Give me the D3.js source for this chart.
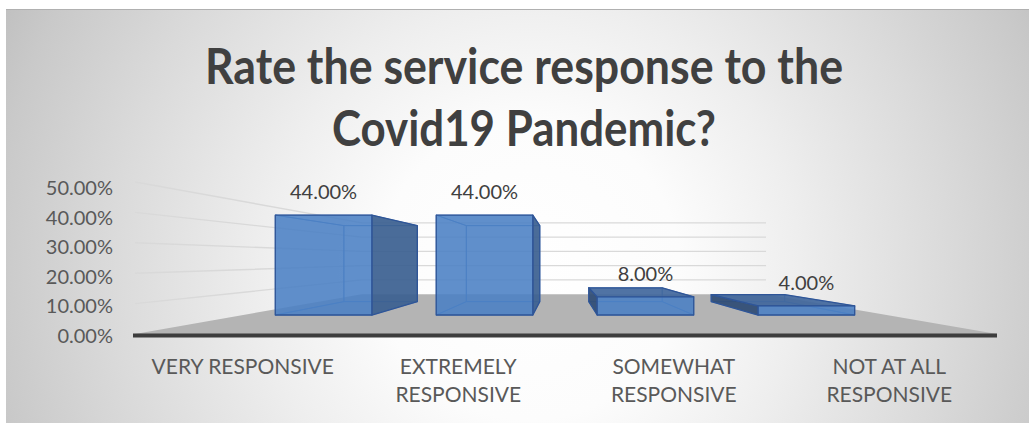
<!DOCTYPE html>
<html>
<head>
<meta charset="utf-8">
<script src="https://cdn.jsdelivr.net/npm/d3@7"></script>
<style>
  html, body { margin: 0; padding: 0; background: #ffffff; }
  svg { display: block; }
</style>
</head>
<body>
<svg id="chart" width="1029" height="423"></svg>
<script>
// ---- data ----
const categories = ["VERY RESPONSIVE", "EXTREMELY RESPONSIVE", "SOMEWHAT RESPONSIVE", "NOT AT ALL RESPONSIVE"];
const values = [0.44, 0.44, 0.08, 0.04];
const yTicks = [0, 0.1, 0.2, 0.3, 0.4, 0.5];
const titleLines = ["Rate the service response to the", "Covid19 Pandemic?"];

// ---- setup ----
const W = 1029, H = 423;
const svg = d3.select("#chart");
const fmt = d3.format(".2%");

// perspective: points live on a front plane (X, Y) and are pushed back by depth d
const VP = { x: 562, y: 259 };
const DEPTH = { front: 1, barFront: 1.339, barBack: 1.76, back: 2.132 };
const project = (X, Y, d) => [VP.x + (X - VP.x) / d, VP.y + (Y - VP.y) / d];
const poly = pts => "M" + pts.map(p => p[0].toFixed(2) + "," + p[1].toFixed(2)).join("L") + "Z";

const x = d3.scaleBand().domain(categories).range([135, 997]).paddingInner(0.4).paddingOuter(0.2);
const y = d3.scaleLinear().domain([0, 0.5]).range([334, 182]);
const yLabel = d3.scaleLinear().domain([0, 0.5]).range([336, 188]);

// ---- background ----
const defs = svg.append("defs");
const bg = defs.append("radialGradient").attr("id", "bgGrad")
  .attr("gradientUnits", "userSpaceOnUse")
  .attr("cx", 530).attr("cy", 270).attr("r", 600);
[[0, "#ffffff"], [0.25, "#fcfcfc"], [0.45, "#eeeeee"], [0.7, "#dadada"], [0.9, "#c9c9c9"], [1, "#bebebe"]]
  .forEach(([o, c]) => bg.append("stop").attr("offset", o).attr("stop-color", c));

svg.append("rect").attr("x", 6).attr("y", 9).attr("width", W - 6).attr("height", H - 9)
  .attr("fill", "url(#bgGrad)");
svg.append("line").attr("x1", 6).attr("x2", W).attr("y1", 9.5).attr("y2", 9.5)
  .attr("stroke", "#b0b0b0").attr("stroke-width", 1);

// ---- title ----
const titleWidths = [638, 384];
titleLines.forEach((t, i) => {
  svg.append("text").attr("x", 524).attr("y", 84 + i * 62)
    .attr("text-anchor", "middle")
    .attr("font-family", "Lato, 'Open Sans', sans-serif").attr("font-weight", 700)
    .attr("font-size", 49).attr("fill", "#404040")
    .attr("textLength", titleWidths[i]).attr("lengthAdjust", "spacingAndGlyphs")
    .text(t);
});

// ---- walls: gridlines on the side wall and back wall ----
const X0 = x.range()[0], X1 = x.range()[1];
const grid = svg.append("g").attr("stroke", "#d9d9d9").attr("stroke-width", 1.4).attr("fill", "none");
yTicks.filter(v => v > 0).forEach(v => {
  const a = project(X0, y(v), DEPTH.front);
  const b = project(X0, y(v), DEPTH.back);
  const c = project(X1, y(v), DEPTH.back);
  grid.append("path").attr("d", `M${a}L${b}L${c}`);
});

// ---- floor ----
svg.append("path")
  .attr("d", poly([project(X0, y(0), DEPTH.front), project(X1, y(0), DEPTH.front),
                   project(X1, y(0), DEPTH.back), project(X0, y(0), DEPTH.back)]))
  .attr("fill", "#b4b4b4");
svg.append("path")
  .attr("d", poly([project(X0 - 2, y(0) - 0.5, DEPTH.front), project(X1, y(0) - 0.5, DEPTH.front),
                   project(X1, y(0) + 3.5, DEPTH.front), project(X0 - 2, y(0) + 3.5, DEPTH.front)]))
  .attr("fill", "#3d3d3d");

// ---- bars ----
const barG = svg.append("g");
categories.forEach((c, i) => {
  const v = values[i];
  const bx0 = x(c), bx1 = bx0 + x.bandwidth();
  const yb = y(0), yt = y(v);
  const f = DEPTH.barFront, b = DEPTH.barBack;
  const faces = {
    front: [project(bx0, yt, f), project(bx1, yt, f), project(bx1, yb, f), project(bx0, yb, f)],
    back: [project(bx0, yt, b), project(bx1, yt, b), project(bx1, yb, b), project(bx0, yb, b)],
    left: [project(bx0, yt, f), project(bx0, yt, b), project(bx0, yb, b), project(bx0, yb, f)],
    right: [project(bx1, yt, f), project(bx1, yt, b), project(bx1, yb, b), project(bx1, yb, f)],
    top: [project(bx0, yt, f), project(bx1, yt, f), project(bx1, yt, b), project(bx0, yt, b)],
    bottom: [project(bx0, yb, f), project(bx1, yb, f), project(bx1, yb, b), project(bx0, yb, b)]
  };
  const visible = {
    front: true, back: false,
    left: bx0 > VP.x, right: bx1 < VP.x,
    top: yt > VP.y, bottom: yb < VP.y
  };
  const g = barG.append("g");
  // hidden edges show faintly through the translucent faces
  Object.keys(faces).filter(k => !visible[k]).forEach(k => {
    g.append("path").attr("d", poly(faces[k])).attr("fill", "none")
      .attr("stroke", "#4f7fc0").attr("stroke-width", 1).attr("stroke-opacity", 0.8);
  });
  const fills = { left: "#2f4c75", right: "#3b6090", top: "#41679c", bottom: "#41679c" };
  ["left", "right", "top", "bottom"].filter(k => visible[k]).forEach(k => {
    g.append("path").attr("d", poly(faces[k])).attr("fill", fills[k]).attr("fill-opacity", 0.92)
      .attr("stroke", "#2f5597").attr("stroke-width", 1.3).attr("stroke-linejoin", "round");
  });
  g.append("path").attr("d", poly(faces.front)).attr("fill", "#4a7fc4").attr("fill-opacity", 0.88)
    .attr("stroke", "#2f5597").attr("stroke-width", 1.3).attr("stroke-linejoin", "round");

  // value label above the front face
  const top = project((bx0 + bx1) / 2, yt, f);
  svg.append("text").attr("x", top[0]).attr("y", top[1] - 24)
    .attr("text-anchor", "middle").attr("dominant-baseline", "central")
    .attr("font-family", "Lato, 'Open Sans', sans-serif").attr("font-size", 20)
    .attr("fill", "#404040").text(fmt(v));
});

// ---- value axis ----
const yAxis = svg.append("g").attr("transform", "translate(113,0)")
  .call(d3.axisLeft(yLabel).tickValues(yTicks).tickFormat(fmt).tickSize(0).tickPadding(0));
yAxis.select(".domain").remove();
yAxis.selectAll("text").attr("font-family", "Lato, 'Open Sans', sans-serif")
  .attr("font-size", 20).attr("fill", "#595959");

// ---- category labels ----
const catG = svg.append("g").attr("font-family", "Lato, 'Open Sans', sans-serif")
  .attr("font-size", 21).attr("fill", "#595959").attr("text-anchor", "middle");
categories.forEach(c => {
  const cx = x(c) + x.bandwidth() / 2;
  const t = catG.append("text").attr("x", cx).attr("y", 374);
  const words = c.split(" ");
  let line = [], lineNo = 0;
  let span = t.append("tspan").attr("x", cx).attr("y", 374);
  words.forEach(w => {
    line.push(w);
    span.text(line.join(" "));
    if (span.node().getComputedTextLength() > 200 && line.length > 1) {
      line.pop();
      span.text(line.join(" "));
      line = [w];
      lineNo++;
      span = t.append("tspan").attr("x", cx).attr("y", 374 + lineNo * 28).text(w);
    }
  });
});
</script>
</body>
</html>
